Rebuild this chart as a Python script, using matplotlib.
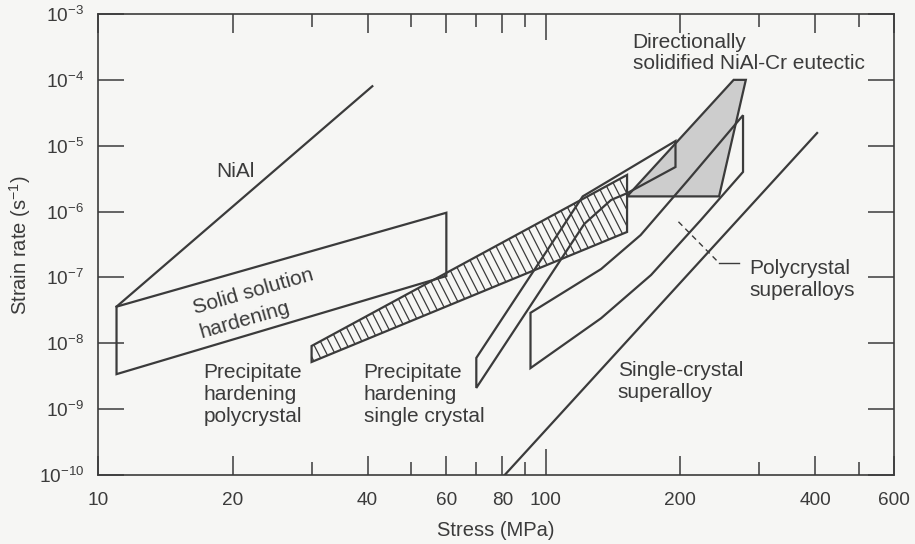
import numpy as np
import matplotlib
matplotlib.use('Agg')
import matplotlib.pyplot as plt
from matplotlib.patches import Polygon
from matplotlib.collections import LineCollection
from matplotlib.ticker import NullFormatter, NullLocator

plt.rcParams['font.family'] = ['Liberation Sans', 'DejaVu Sans']
plt.rcParams['mathtext.fontset'] = 'custom'
plt.rcParams['mathtext.rm'] = 'Liberation Sans'
plt.rcParams['mathtext.it'] = 'Liberation Sans:italic'
plt.rcParams['mathtext.bf'] = 'Liberation Sans:bold'

INK = '#3b3b3b'
BG = '#f6f6f4'

#--- data: stress (MPa) vs strain rate (1/s)

nial_stress = [11.0, 41.0]
nial_rate = [3.6e-8, 8.0e-5]

solid_stress = [11.0, 60.0, 60.0, 11.0]
solid_rate = [3.6e-8, 9.6e-7, 1.05e-7, 3.4e-9]

ppoly_stress = [30.0, 152.0, 152.0, 30.0]
ppoly_rate = [9.1e-9, 3.6e-6, 4.9e-7, 5.2e-9]

psingle_stress = [70.0, 121.0, 195.0, 195.0, 152.0, 140.0, 122.0, 70.0]
psingle_rate = [6.0e-9, 1.7e-6, 1.18e-5, 4.75e-6, 1.9e-6, 1.5e-6, 6.5e-7, 2.1e-9]

eutectic_stress = [152.0, 263.0, 280.0, 244.0]
eutectic_rate = [1.7e-6, 1.0e-4, 1.0e-4, 1.7e-6]

polysup_stress = [92.5, 133.0, 163.0, 208.0, 276.0, 276.0, 222.0, 172.0, 133.0, 92.5]
polysup_rate = [2.9e-8, 1.34e-7, 4.4e-7, 3.0e-6, 2.9e-5, 4.0e-6, 7.4e-7, 1.09e-7, 2.4e-8, 4.2e-9]

single_stress = [81.0, 404.0]
single_rate = [1.0e-10, 1.56e-5]

leader_stress = [198.0, 244.0, 270.0]
leader_rate = [7.0e-7, 1.66e-7, 1.66e-7]

x_ticks = [10, 20, 40, 60, 80, 100, 200, 400, 600]
x_minor = [30, 50, 70, 90, 300, 500]
y_exps = list(range(-10, -2))

#--- figure

fig = plt.figure(figsize=(9.15, 5.44), dpi=100, facecolor=BG)
pos = [98 / 915, 1 - 475 / 544, (894 - 98) / 915, (475 - 14) / 544]
ax = fig.add_axes(pos, facecolor=BG)
ax.set_xscale('log')
ax.set_yscale('log')
ax.set_xlim(10, 600)
ax.set_ylim(1e-10, 1e-3)

lw = 1.6

# eutectic (stippled grey)
eut = Polygon(np.column_stack([eutectic_stress, eutectic_rate]), closed=True,
              facecolor='#cdcdcd', edgecolor=INK, lw=lw, zorder=1)
ax.add_patch(eut)

# precipitate hardening polycrystal (hatched)
pp = Polygon(np.column_stack([ppoly_stress, ppoly_rate]), closed=True,
             facecolor='none', edgecolor=INK, lw=lw, zorder=3)
ax.add_patch(pp)

W = 9.15 * 100 * pos[2]
H = 5.44 * 100 * pos[3]
ang = np.radians(63)
shift = H / np.tan(ang)
segs = []
for x0 in np.arange(0, W + shift, 8.3):
    segs.append([(x0 / W, 0), ((x0 - shift) / W, 1)])
hl = LineCollection(segs, colors=INK, linewidths=0.9, transform=ax.transAxes, zorder=2)
ax.add_collection(hl)
hl.set_clip_path(pp)

for xs, ys in [(solid_stress, solid_rate), (psingle_stress, psingle_rate),
               (polysup_stress, polysup_rate)]:
    ax.add_patch(Polygon(np.column_stack([xs, ys]), closed=True,
                         facecolor='none', edgecolor=INK, lw=lw, zorder=3))

ax.plot(nial_stress, nial_rate, color=INK, lw=lw, zorder=3)
ax.plot(single_stress, single_rate, color=INK, lw=lw, zorder=3, clip_on=True)
ax.plot(leader_stress[:2], leader_rate[:2], color=INK, lw=1.0, ls=(0, (4, 3)), zorder=3)
ax.plot(leader_stress[1:], leader_rate[1:], color=INK, lw=1.0, zorder=3)

#--- labels

fs = 15
tk = dict(color=INK, fontsize=fs)
ax.text(18.4, 4.0e-6, 'NiAl', ha='left', va='center', **tk)
ax.text(156.5, 2.55e-4, 'Directionally\nsolidified NiAl-Cr eutectic',
        ha='left', va='center', linespacing=1.15, **tk)
ax.text(22.2, 6.0e-8, 'Solid solution', ha='center', va='center',
        rotation=16, rotation_mode='anchor', **tk)
ax.text(21.3, 2.26e-8, 'hardening', ha='center', va='center',
        rotation=16, rotation_mode='anchor', **tk)
ax.text(17.2, 1.64e-9, 'Precipitate\nhardening\npolycrystal',
        ha='left', va='center', linespacing=1.2, **tk)
ax.text(39.2, 1.64e-9, 'Precipitate\nhardening\nsingle crystal',
        ha='left', va='center', linespacing=1.2, **tk)
ax.text(145.0, 2.65e-9, 'Single-crystal\nsuperalloy',
        ha='left', va='center', linespacing=1.2, **tk)
ax.text(284.6, 9.2e-8, 'Polycrystal\nsuperalloys',
        ha='left', va='center', linespacing=1.2, **tk)

#--- axes styling

ax.set_xticks(x_ticks)
ax.set_xticklabels([str(v) for v in x_ticks])
ax.set_xticks(x_minor, minor=True)
ax.xaxis.set_minor_formatter(NullFormatter())
ax.set_yticks([10.0 ** e for e in y_exps])
ax.set_yticklabels(['$10^{%d}$' % e for e in y_exps])
ax.yaxis.set_minor_locator(NullLocator())

ax.tick_params(axis='x', which='major', direction='in', top=True, length=13.7,
               width=1.1, color=INK, labelcolor=INK, labelsize=13.7, pad=12)
ax.tick_params(axis='x', which='minor', direction='in', top=True, length=9.4,
               width=1.1, color=INK)
ax.tick_params(axis='y', which='major', direction='in', right=True, length=18.7,
               width=1.1, color=INK, labelcolor=INK, labelsize=13.7, pad=10)
for t in ax.xaxis.get_major_ticks():
    if t.get_loc() == 100:
        t.tick1line.set_markersize(18.5)
        t.tick2line.set_markersize(18.5)

for s in ax.spines.values():
    s.set_color(INK)
    s.set_linewidth(1.2)

fig.text(496 / 915, 1 - 530 / 544, 'Stress (MPa)', ha='center', va='center',
         color=INK, fontsize=14.5)
fig.text(20 / 915, 1 - 245 / 544, 'Strain rate (s$^{-1}$)', ha='center', va='center',
         rotation=90, color=INK, fontsize=14.5)

fig.savefig('out.png', dpi=100, facecolor=BG)
